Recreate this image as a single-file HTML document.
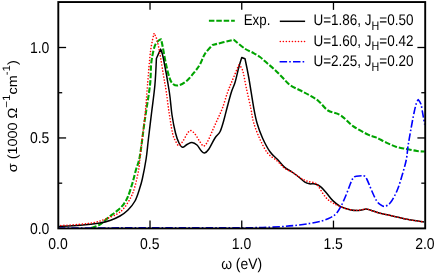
<!DOCTYPE html>
<html><head><meta charset="utf-8"><title>Optical conductivity</title>
<style>
html,body{margin:0;padding:0;background:#fff;}
body{width:436px;height:273px;overflow:hidden;}
svg{display:block;will-change:transform;}
text{font-family:"Liberation Sans",sans-serif;font-size:13.33px;fill:#000;text-rendering:geometricPrecision;}
.sub{font-size:10.7px;}
.sup{font-size:10.7px;}
</style></head><body>
<svg width="436" height="273" viewBox="0 0 436 273">
<defs><clipPath id="c"><rect x="58.3" y="2.05" width="366.9" height="227.35"/></clipPath></defs>
<g clip-path="url(#c)" fill="none" stroke-linejoin="round">
<path d="M91.30,228.00C92.65,227.48 96.58,226.63 99.40,224.90C102.22,223.17 105.27,219.93 108.20,217.60C111.13,215.27 114.43,213.12 117.00,210.90C119.57,208.68 121.77,206.72 123.60,204.30C125.43,201.88 126.53,199.92 128.00,196.40C129.47,192.88 131.08,187.60 132.40,183.20C133.72,178.80 134.67,174.47 135.90,170.00C137.13,165.53 138.33,164.62 139.80,156.40C141.27,148.18 143.00,132.60 144.70,120.70C146.40,108.80 148.91,94.58 150.00,85.00C151.09,75.42 150.50,69.58 151.25,63.20C152.00,56.83 153.32,50.47 154.50,46.75C155.68,43.03 157.20,42.15 158.30,40.90C159.40,39.65 161.10,39.25 161.10,39.25C161.10,39.25 161.92,42.76 162.70,46.75C163.48,50.74 164.70,58.12 165.80,63.20C166.90,68.28 168.13,73.77 169.30,77.20C170.47,80.63 171.23,82.43 172.80,83.80C174.37,85.17 176.35,85.92 178.70,85.40C181.05,84.88 184.18,83.03 186.90,80.70C189.62,78.37 192.82,74.13 195.00,71.40C197.18,68.67 198.33,67.24 200.00,64.30C201.67,61.36 202.92,56.97 205.00,53.75C207.08,50.53 212.50,45.00 212.50,45.00C212.50,45.00 233.75,39.70 233.75,39.70C233.75,39.70 241.88,46.62 245.00,48.75C248.12,50.88 250.00,51.12 252.50,52.50C255.00,53.88 257.50,55.17 260.00,57.00C262.50,58.83 265.00,61.33 267.50,63.50C270.00,65.67 272.50,67.67 275.00,70.00C277.50,72.33 280.00,75.00 282.50,77.50C285.00,80.00 287.08,82.87 290.00,85.00C292.92,87.13 296.83,88.63 300.00,90.30C303.17,91.97 305.88,93.18 309.00,95.00C312.12,96.82 315.53,98.62 318.70,101.20C321.87,103.78 324.37,108.17 328.00,110.50C331.63,112.83 336.33,112.60 340.50,115.20C344.67,117.80 348.32,122.82 353.00,126.10C357.68,129.38 364.77,133.02 368.60,134.90C372.43,136.78 373.05,136.12 376.00,137.40C378.95,138.68 382.88,141.02 386.30,142.60C389.72,144.18 393.08,145.83 396.50,146.90C399.92,147.97 403.38,148.32 406.80,149.00C410.22,149.68 414.02,150.58 417.00,151.00C419.98,151.42 423.42,151.42 424.70,151.50" stroke="#00a400" stroke-width="2.1" stroke-dasharray="5.5 1.9"/>
<path d="M58.00,226.50C61.67,226.28 73.00,225.80 80.00,225.20C87.00,224.60 95.00,223.68 100.00,222.90C105.00,222.12 106.67,221.65 110.00,220.50C113.33,219.35 117.00,217.75 120.00,216.00C123.00,214.25 125.50,212.50 128.00,210.00C130.50,207.50 133.08,204.50 135.00,201.00C136.92,197.50 138.28,192.67 139.50,189.00C140.72,185.33 141.20,184.00 142.30,179.00C143.40,174.00 145.10,165.50 146.10,159.00C147.10,152.50 147.38,147.75 148.30,140.00C149.22,132.25 150.50,121.67 151.60,112.50C152.70,103.33 154.10,94.00 154.90,85.00C155.70,76.00 156.40,58.50 156.40,58.50C156.40,58.50 160.60,49.10 160.60,49.10C160.60,49.10 161.95,51.39 163.40,58.50C164.85,65.61 167.87,82.33 169.30,91.75C170.73,101.17 170.97,108.12 172.00,115.00C173.03,121.88 174.33,128.33 175.50,133.00C176.67,137.67 177.83,140.62 179.00,143.00C180.17,145.38 181.17,147.00 182.50,147.25C183.83,147.50 185.42,145.29 187.00,144.50C188.58,143.71 190.33,142.42 192.00,142.50C193.67,142.58 195.50,143.67 197.00,145.00C198.50,146.33 199.75,149.17 201.00,150.50C202.25,151.83 203.21,153.21 204.50,153.00C205.79,152.79 207.00,151.75 208.75,149.25C210.50,146.75 213.12,140.92 215.00,138.00C216.88,135.08 218.54,134.67 220.00,131.75C221.46,128.83 222.58,124.46 223.75,120.50C224.92,116.54 225.75,112.67 227.00,108.00C228.25,103.33 229.92,96.75 231.25,92.50C232.58,88.25 233.75,86.67 235.00,82.50C236.25,78.33 237.62,71.67 238.75,67.50C239.88,63.33 241.75,57.50 241.75,57.50C241.75,57.50 245.00,58.75 245.00,58.75C245.00,58.75 247.29,69.29 248.75,77.50C250.21,85.71 252.38,100.42 253.75,108.00C255.12,115.58 255.54,118.00 257.00,123.00C258.46,128.00 260.33,133.20 262.50,138.00C264.67,142.80 267.53,148.27 270.00,151.80C272.47,155.33 274.85,156.60 277.30,159.20C279.75,161.80 282.25,165.27 284.70,167.40C287.15,169.53 289.55,170.32 292.00,172.00C294.45,173.68 297.25,175.82 299.40,177.50C301.55,179.18 303.23,181.05 304.90,182.10C306.57,183.15 307.72,183.48 309.40,183.80C311.08,184.12 313.15,183.53 315.00,184.00C316.85,184.47 318.55,185.05 320.50,186.60C322.45,188.15 324.65,190.97 326.70,193.30C328.75,195.63 330.55,198.43 332.80,200.60C335.05,202.77 337.33,204.78 340.20,206.30C343.07,207.82 346.93,209.00 350.00,209.70C353.07,210.40 355.93,210.62 358.60,210.50C361.27,210.38 363.95,209.03 366.00,209.00C368.05,208.97 368.57,209.60 370.90,210.30C373.23,211.00 376.73,212.33 380.00,213.20C383.27,214.07 385.97,214.48 390.50,215.50C395.03,216.52 401.62,218.22 407.20,219.30C412.78,220.38 421.20,221.55 424.00,222.00" stroke="#000" stroke-width="1.5"/>
<path d="M58.00,225.70C61.67,225.47 73.83,224.87 80.00,224.30C86.17,223.73 90.67,223.20 95.00,222.30C99.33,221.40 102.33,220.28 106.00,218.90C109.67,217.52 114.07,215.73 117.00,214.00C119.93,212.27 121.40,211.07 123.60,208.50C125.80,205.93 128.37,202.08 130.20,198.60C132.03,195.12 133.20,192.37 134.60,187.60C136.00,182.83 137.72,174.77 138.60,170.00C139.48,165.23 139.33,164.00 139.90,159.00C140.47,154.00 141.10,147.75 142.00,140.00C142.90,132.25 144.38,121.67 145.30,112.50C146.22,103.33 146.63,95.18 147.50,85.00C148.37,74.82 149.40,60.03 150.50,51.40C151.60,42.77 154.10,33.20 154.10,33.20C154.10,33.20 155.93,36.27 156.90,39.70C157.87,43.13 158.82,47.93 159.90,53.80C160.98,59.67 162.34,68.58 163.40,74.90C164.46,81.23 165.32,85.57 166.25,91.75C167.18,97.93 167.96,105.12 169.00,112.00C170.04,118.88 171.42,128.17 172.50,133.00C173.58,137.83 174.46,138.92 175.50,141.00C176.54,143.08 177.50,145.50 178.75,145.50C180.00,145.50 181.62,142.92 183.00,141.00C184.38,139.08 185.75,135.75 187.00,134.00C188.25,132.25 189.17,130.50 190.50,130.50C191.83,130.50 193.50,132.25 195.00,134.00C196.50,135.75 198.08,139.00 199.50,141.00C200.92,143.00 202.17,145.88 203.50,146.00C204.83,146.12 206.00,144.33 207.50,141.75C209.00,139.17 210.83,134.25 212.50,130.50C214.17,126.75 215.83,123.00 217.50,119.25C219.17,115.50 220.83,112.46 222.50,108.00C224.17,103.54 225.83,97.17 227.50,92.50C229.17,87.83 230.62,84.58 232.50,80.00C234.38,75.42 238.75,65.00 238.75,65.00C238.75,65.00 241.25,66.25 242.50,70.00C243.75,73.75 244.88,81.17 246.25,87.50C247.62,93.83 249.50,102.08 250.75,108.00C252.00,113.92 252.21,117.79 253.75,123.00C255.29,128.21 257.71,134.25 260.00,139.25C262.29,144.25 264.62,149.38 267.50,153.00C270.38,156.62 274.43,158.45 277.30,161.00C280.17,163.55 282.25,166.47 284.70,168.30C287.15,170.13 289.55,170.52 292.00,172.00C294.45,173.48 297.25,175.82 299.40,177.20C301.55,178.58 303.23,179.53 304.90,180.30C306.57,181.07 307.72,181.35 309.40,181.80C311.08,182.25 313.47,182.18 315.00,183.00C316.53,183.82 317.23,184.87 318.60,186.70C319.97,188.53 321.67,191.87 323.20,194.00C324.73,196.13 326.17,198.00 327.80,199.50C329.43,201.00 330.93,201.83 333.00,203.00C335.07,204.17 337.37,205.38 340.20,206.50C343.03,207.62 346.93,209.08 350.00,209.70C353.07,210.32 355.93,210.32 358.60,210.20C361.27,210.08 363.95,208.98 366.00,209.00C368.05,209.02 368.57,209.60 370.90,210.30C373.23,211.00 376.73,212.33 380.00,213.20C383.27,214.07 385.97,214.48 390.50,215.50C395.03,216.52 401.62,218.22 407.20,219.30C412.78,220.38 421.20,221.55 424.00,222.00" stroke="#ff0000" stroke-width="1.6" stroke-linecap="round" stroke-dasharray="0.01 3.02"/>
<path d="M58.00,228.00C81.67,227.97 168.00,227.85 200.00,227.80C232.00,227.75 239.50,227.76 250.00,227.70C260.50,227.64 258.00,227.62 263.00,227.45C268.00,227.28 274.72,227.02 280.00,226.70C285.28,226.38 289.78,226.03 294.70,225.50C299.62,224.97 304.98,224.27 309.50,223.50C314.02,222.73 318.32,221.88 321.80,220.90C325.28,219.92 327.95,218.87 330.40,217.60C332.85,216.33 334.67,215.32 336.50,213.30C338.33,211.28 339.77,208.63 341.40,205.50C343.03,202.37 344.87,197.97 346.30,194.50C347.73,191.03 348.85,187.48 350.00,184.70C351.15,181.92 352.17,179.20 353.20,177.80C354.23,176.40 354.48,176.63 356.20,176.30C357.92,175.97 361.78,175.43 363.50,175.80C365.22,176.17 365.47,176.82 366.50,178.50C367.53,180.18 368.55,183.23 369.70,185.90C370.85,188.57 372.18,191.92 373.40,194.50C374.62,197.08 375.90,199.77 377.00,201.40C378.10,203.03 378.77,203.48 380.00,204.30C381.23,205.12 382.65,206.58 384.40,206.30C386.15,206.02 388.37,205.28 390.50,202.60C392.63,199.92 395.25,194.78 397.20,190.20C399.15,185.62 400.68,180.18 402.20,175.10C403.72,170.02 405.33,164.48 406.30,159.70C407.27,154.92 407.28,151.18 408.00,146.40C408.72,141.62 409.60,136.57 410.60,131.00C411.60,125.43 413.02,117.70 414.00,113.00C414.98,108.30 415.78,105.02 416.50,102.80C417.22,100.58 418.30,99.70 418.30,99.70C418.30,99.70 420.13,101.65 420.90,104.10C421.67,106.55 422.27,110.98 422.90,114.40C423.53,117.82 424.40,122.90 424.70,124.60" stroke="#0000ff" stroke-width="1.6" stroke-dasharray="7.5 2.1 1.6 2.2"/>
</g>
<g stroke="#000" stroke-width="1.3" fill="none">
<line x1="150.02" y1="228.4" x2="150.02" y2="220.6"/><line x1="150.02" y1="2.05" x2="150.02" y2="9.85"/><line x1="241.75" y1="228.4" x2="241.75" y2="220.6"/><line x1="241.75" y1="2.05" x2="241.75" y2="9.85"/><line x1="333.47" y1="228.4" x2="333.47" y2="220.6"/><line x1="333.47" y1="2.05" x2="333.47" y2="9.85"/><line x1="58.3" y1="183.18" x2="62.199999999999996" y2="183.18"/><line x1="425.2" y1="183.18" x2="421.3" y2="183.18"/><line x1="58.3" y1="137.95" x2="66.1" y2="137.95"/><line x1="425.2" y1="137.95" x2="417.4" y2="137.95"/><line x1="58.3" y1="92.72" x2="62.199999999999996" y2="92.72"/><line x1="425.2" y1="92.72" x2="421.3" y2="92.72"/><line x1="58.3" y1="47.50" x2="66.1" y2="47.50"/><line x1="425.2" y1="47.50" x2="417.4" y2="47.50"/>
</g>
<rect x="58.3" y="2.05" width="366.9" height="226.35" fill="none" stroke="#000" stroke-width="1.9"/>
<g><text transform="translate(58.00,248.80) scale(1,1.12)" text-anchor="middle" style="font-size:14.0px">0.0</text><text transform="translate(149.72,248.80) scale(1,1.12)" text-anchor="middle" style="font-size:14.0px">0.5</text><text transform="translate(241.45,248.80) scale(1,1.12)" text-anchor="middle" style="font-size:14.0px">1.0</text><text transform="translate(333.17,248.80) scale(1,1.12)" text-anchor="middle" style="font-size:14.0px">1.5</text><text transform="translate(424.90,248.80) scale(1,1.12)" text-anchor="middle" style="font-size:14.0px">2.0</text><text transform="translate(49.40,233.70) scale(1,1.12)" text-anchor="end" style="font-size:14.0px">0.0</text><text transform="translate(49.40,143.25) scale(1,1.12)" text-anchor="end" style="font-size:14.0px">0.5</text><text transform="translate(49.40,52.80) scale(1,1.12)" text-anchor="end" style="font-size:14.0px">1.0</text></g>
<text transform="translate(241.60,269.10) scale(1,1.11)" text-anchor="middle" style="font-size:13.9px">ω (eV)</text>
<text transform="translate(16.7,116.2) scale(1,1.08) rotate(-90)" text-anchor="middle">σ (1000 Ω<tspan class="sup" dy="-7">−1</tspan><tspan dy="7">cm</tspan><tspan class="sup" dy="-7">-1</tspan><tspan dy="7">)</tspan></text>
<g fill="none">
<line x1="208.9" y1="20.7" x2="234.8" y2="20.7" stroke="#00a400" stroke-width="2.1" stroke-dasharray="5.5 1.9"/>
<line x1="279.8" y1="21.3" x2="305.1" y2="21.3" stroke="#000" stroke-width="1.5"/>
<line x1="280.3" y1="41.5" x2="305.2" y2="41.5" stroke="#ff0000" stroke-width="1.6" stroke-linecap="round" stroke-dasharray="0.01 3.02"/>
<line x1="279.6" y1="61.7" x2="304.4" y2="61.7" stroke="#0000ff" stroke-width="1.6" stroke-dasharray="7.5 2.1 1.6 2.2"/>
</g>
<text transform="translate(243.70,25.20) scale(1,1.16)" text-anchor="start" style="font-size:13.33px">Exp.</text>
<text transform="translate(313.40,25.20) scale(1,1.145)" text-anchor="start" style="font-size:13.5px">U=1.86, J<tspan class="sub" dy="4">H</tspan><tspan dy="-4">=0.50</tspan></text>
<text transform="translate(313.40,45.60) scale(1,1.145)" text-anchor="start" style="font-size:13.5px">U=1.60, J<tspan class="sub" dy="4">H</tspan><tspan dy="-4">=0.42</tspan></text>
<text transform="translate(313.40,66.00) scale(1,1.145)" text-anchor="start" style="font-size:13.5px">U=2.25, J<tspan class="sub" dy="4">H</tspan><tspan dy="-4">=0.20</tspan></text>
</svg>
</body></html>
